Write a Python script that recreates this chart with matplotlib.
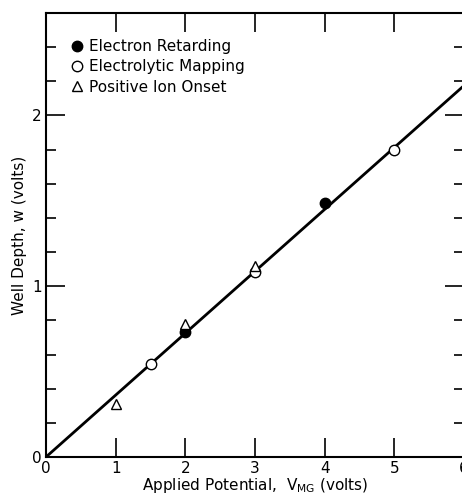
import numpy as np
import matplotlib
matplotlib.use("Agg")
import matplotlib.pyplot as plt
from matplotlib.ticker import MultipleLocator

# data
retard_x = [2.0, 4.0]
retard_w = [0.73, 1.485]
mapping_x = [1.5, 3.0, 5.0]
mapping_w = [0.545, 1.085, 1.80]
onset_x = [1.0, 2.0, 3.0]
onset_w = [0.31, 0.78, 1.12]
fit_x = [0.0, 6.0]
fit_w = [0.0, 2.175]

plt.rcParams['font.family'] = ['DejaVu Sans']

fig = plt.figure(figsize=(4.62, 4.94), dpi=100)
ax = fig.add_axes([46/462, 37/494, 418/462, 444/494])

ax.plot(fit_x, fit_w, color='black', lw=2, zorder=2)
ax.plot(retard_x, retard_w, 'o', color='black', ms=7.5, zorder=4,
        label='Electron Retarding')
ax.plot(mapping_x, mapping_w, 'o', mfc='white', mec='black', mew=1, ms=7.5,
        zorder=3, label='Electrolytic Mapping')
ax.plot(onset_x, onset_w, '^', mfc='white', mec='black', mew=1, ms=6.5,
        zorder=5, label='Positive Ion Onset')

ax.set_xlim(0, 6)
ax.set_ylim(0, 2.6)
ax.xaxis.set_major_locator(MultipleLocator(1))
ax.yaxis.set_major_locator(MultipleLocator(1))
ax.yaxis.set_minor_locator(MultipleLocator(0.2))
ax.tick_params(which='major', direction='in', length=14, width=1.2,
               top=True, right=True, labelsize=11, pad=3)
ax.tick_params(which='minor', direction='in', length=7, width=1.2,
               left=True, right=True)
for s in ax.spines.values():
    s.set_linewidth(1.5)

ax.set_xlabel('Applied Potential,  V$_{\\mathrm{MG}}$ (volts)', fontsize=11,
              labelpad=0)
ax.set_ylabel('Well Depth, w (volts)', fontsize=11, labelpad=4)

ax.legend(loc='upper left', frameon=False, fontsize=11, handlelength=0.8,
          handletextpad=0.4, labelspacing=0.35, borderaxespad=0.0,
          bbox_to_anchor=(0.045, 0.955))

fig.savefig('out.png', dpi=100)
